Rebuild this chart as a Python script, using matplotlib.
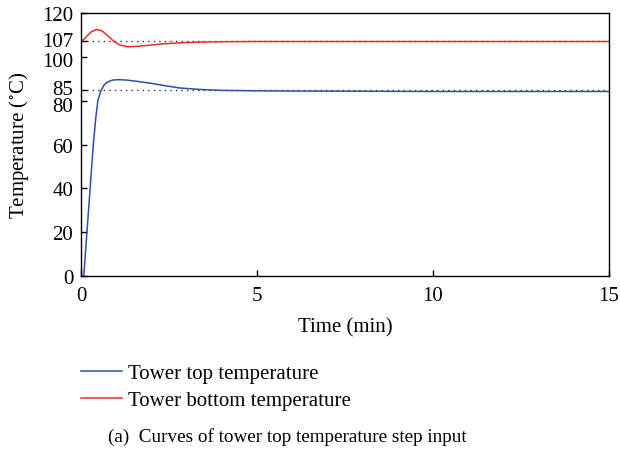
import matplotlib
matplotlib.use('Agg')
import matplotlib.pyplot as plt
from matplotlib.transforms import ScaledTranslation

plt.rcParams['font.family'] = ['Liberation Serif', 'DejaVu Serif']
plt.rcParams['mathtext.fontset'] = 'stix'

# Tower top temperature (blue)
top_time = [0.08, 0.17, 0.26, 0.35, 0.42, 0.48, 0.56, 0.65, 0.75, 0.9, 1.05,
            1.3, 1.6, 2.0, 2.4, 2.8, 3.4, 4.0, 5.0, 6.0, 8.0, 10.0, 12.0, 15.0]
top_temp = [0, 20, 40, 60, 72, 80, 84.3, 87, 88.5, 89.4, 89.6,
            89.4, 88.8, 87.9, 86.8, 85.8, 85.1, 84.7, 84.5, 84.4, 84.3, 84.2, 84.2, 84.2]

# Tower bottom temperature (red)
bot_time = [0.0, 0.1, 0.2, 0.3, 0.45, 0.6, 0.75, 0.94, 1.1, 1.34, 1.6,
            2.0, 2.3, 2.8, 3.3, 4.0, 5.0, 7.0, 10.0, 15.0]
bot_temp = [107, 108.2, 110, 111.5, 112.5, 111.8, 109.8, 107, 105.4, 104.6, 104.8,
            105.4, 105.9, 106.4, 106.7, 106.9, 107, 107, 107, 107]

setpoints = [85, 107]
y_ticks = [0, 20, 40, 60, 80, 85, 100, 107, 120]
x_ticks = [0, 5, 10, 15]

fig = plt.figure(figsize=(6.2, 4.56), dpi=100)
ax = fig.add_axes([0.1306, 0.3925, 0.8514, 0.5768])

for sp in setpoints:
    ax.plot([0, 15], [sp, sp], color='#333333', linestyle=(0, (1, 3)), linewidth=1.0)

ax.plot(top_time, top_temp, color='#2d4fa8', linewidth=1.1, label='Tower top temperature')
ax.plot(bot_time, bot_temp, color='#ee2a2a', linewidth=1.1, label='Tower bottom temperature')

ax.set_xlim(0, 15)
ax.set_ylim(0, 120)
ax.set_xticks(x_ticks)
ax.set_yticks(y_ticks)
ax.tick_params(direction='in', labelsize=15, length=4, width=1)
ax.tick_params(axis='x', pad=7)
ax.tick_params(axis='y', pad=5.5)
for s in ax.spines.values():
    s.set_linewidth(1.0)

# nudge the crowded labels apart a little (107/100 and 85/80)
nudge = {107: 2, 100: -2, 85: 3, 80: -3}
for val, lab in zip(y_ticks, ax.get_yticklabels()):
    if val in nudge:
        lab.set_transform(lab.get_transform() +
                          ScaledTranslation(0, nudge[val] / 100, fig.dpi_scale_trans))

ax.set_xlabel('Time (min)', fontsize=15, labelpad=9)
ax.set_ylabel(r'Temperature ($^{\circ}$C)', fontsize=15, labelpad=8)

fig.legend(loc='upper left', bbox_to_anchor=(0.131, 0.201), frameon=False,
           fontsize=15, borderpad=0, borderaxespad=0, handlelength=1.95,
           handletextpad=0.3, labelspacing=0.35)

fig.text(0.174, 1 - 437 / 456, '(a)  Curves of tower top temperature step input',
         fontsize=13.8, va='center', ha='left')

fig.savefig('out.png', dpi=100)
